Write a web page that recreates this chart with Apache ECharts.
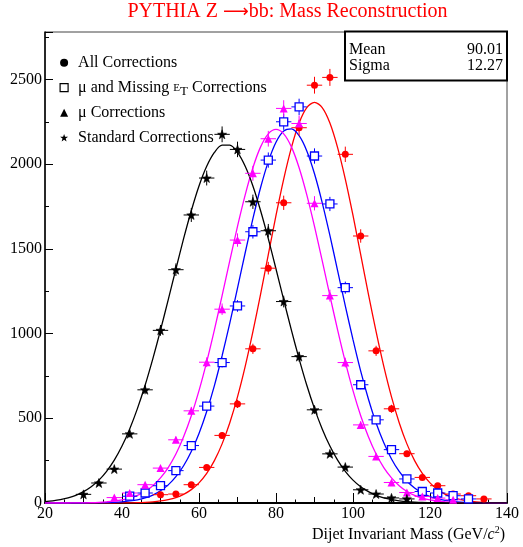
<!DOCTYPE html>
<html><head><meta charset="utf-8">
<script src="https://cdn.jsdelivr.net/npm/echarts@6/dist/echarts.min.js"></script>
<style>html,body{margin:0;padding:0;background:#fff}#c{width:523px;height:547px}</style>
</head><body><div id="c"></div>
<script>
// ---- data ----
const titleParts = ['PYTHIA Z ', '\u27F6', 'bb: Mass Reconstruction'];
const seriesNames = ['All Corrections', '\u03bc and Missing ET Corrections', '\u03bc Corrections', 'Standard Corrections'];
const xTicks = [20, 40, 60, 80, 100, 120, 140];
const yTicks = [0, 500, 1000, 1500, 2000, 2500];
const binHalfWidth = 2;

// All Corrections (red circles)
const allX = [50,54,58,62,66,70,74,78,82,86,90,94,98,102,106,110,114,118,122,126,130,134];
const allY = [49,53,108,210,399,585,910,1386,1772,2215,2466,2512,2058,1576,898,556,291,151,102,53,43,24];
// mu and Missing ET Corrections (blue open squares)
const metX = [42,46,50,54,58,62,66,70,74,78,82,86,90,94,98,102,106,110,114,118,122,126,130];
const metY = [40,59,102,191,339,572,829,1163,1601,2024,2250,2338,2048,1765,1271,698,491,315,142,68,59,43,24];
// mu Corrections (magenta triangles)
const muX = [38,42,46,50,54,58,62,66,70,74,78,82,86,90,94,98,102,106,110,114,118,122,126];
const muY = [32,59,108,206,373,544,831,1144,1552,1946,2150,2329,2240,1769,1224,829,461,275,121,62,39,29,19];
// Standard Corrections (black stars)
const stdX = [30,34,38,42,46,50,54,58,62,66,70,74,78,82,86,90,94,98,102,106,110,114];
const stdY = [51,118,200,408,668,1019,1377,1700,1918,2176,2087,1778,1607,1189,864,550,290,212,78,53,30,24];

// fitted curves, read at every 2 GeV from 20 to 140
const curveX = [20,22,24,26,28,30,32,34,36,38,40,42,44,46,48,50,52,54,56,58,60,62,64,66,68,70,72,74,76,78,80,82,84,86,88,90,92,94,96,98,100,102,104,106,108,110,112,114,116,118,120,122,124,126,128,130,132,134,136,138,140];
const allFit = [0,0,0,0,0,0,0,0,0,0,1,1,2,4,7,12,20,32,51,79,119,175,250,349,474,626,806,1011,1233,1466,1697,1912,2098,2243,2334,2365,2334,2243,2098,1912,1697,1466,1233,1011,806,626,474,349,250,175,119,79,51,32,20,12,7,4,2,1,1];
const metFit = [0,0,0,0,0,0,1,1,2,4,7,12,19,30,47,72,107,156,220,304,410,540,693,869,1062,1268,1477,1678,1862,2015,2129,2195,2208,2168,2078,1943,1773,1579,1372,1164,964,778,614,472,355,260,186,130,88,59,38,24,15,9,5,3,2,1,0,0,0];
const muFit = [0,0,0,0,1,1,2,4,7,11,18,29,45,68,102,148,209,289,391,515,663,833,1022,1224,1430,1633,1819,1979,2102,2179,2205,2179,2102,1979,1819,1633,1430,1224,1022,833,663,515,391,289,209,148,102,68,45,29,18,11,7,4,2,1,1,0,0,0,0];
const stdFit = [8,13,20,30,45,67,96,135,187,253,336,437,557,695,851,1020,1199,1381,1560,1725,1871,1987,2069,2112,2112,2069,1987,1871,1725,1560,1381,1199,1020,851,695,557,437,336,253,187,135,96,67,45,30,20,13,8,5,3,2,1,1,0,0,0,0,0,0,0,0];

const statsLabels = ['Mean', 'Sigma'];
const statsValues = ['90.01', '12.27'];

// ---- styling ----
const FONT = '"Liberation Serif", "DejaVu Serif", serif';
const RED = '#ff0000', BLUE = '#0000ff', MAG = '#ff00ff', BLK = '#000000';
const STAR = 'path://M0,-10L2.35,-3.24L9.51,-3.09L3.8,1.24L5.88,8.09L0,4L-5.88,8.09L-3.8,1.24L-9.51,-3.09L-2.35,-3.24Z';

function pairs(xs, ys) { return xs.map((x, i) => [x, ys[i]]); }

function errBars(color) {
  return function (params, api) {
    const x = api.value(0), y = api.value(1);
    const e = Math.sqrt(Math.max(y, 0));
    const l = api.coord([x - binHalfWidth, y]);
    const r = api.coord([x + binHalfWidth, y]);
    const b = api.coord([x, Math.max(0, y - e)]);
    const t = api.coord([x, y + e]);
    return {
      type: 'group',
      children: [
        { type: 'line', shape: { x1: l[0], y1: l[1], x2: r[0], y2: r[1] }, style: { stroke: color, lineWidth: 1 } },
        { type: 'line', shape: { x1: b[0], y1: b[1], x2: t[0], y2: t[1] }, style: { stroke: color, lineWidth: 1 } }
      ]
    };
  };
}

const sets = [
  { name: seriesNames[0], xs: allX, ys: allY, fit: allFit, color: RED, symbol: 'circle', size: 7, fill: RED, bw: 0 },
  { name: seriesNames[1], xs: metX, ys: metY, fit: metFit, color: BLUE, symbol: 'rect', size: 8, fill: '#ffffff', bw: 1.3 },
  { name: seriesNames[2], xs: muX, ys: muY, fit: muFit, color: MAG, symbol: 'triangle', size: 8, fill: MAG, bw: 0 },
  { name: seriesNames[3], xs: stdX, ys: stdY, fit: stdFit, color: BLK, symbol: STAR, size: 9, fill: BLK, bw: 0.6 }
];

const series = [];
sets.forEach((s) => {
  series.push({
    name: s.name + ' fit', type: 'line', xAxisIndex: 0, yAxisIndex: 0,
    data: pairs(curveX, s.fit), smooth: 0.3, showSymbol: false, symbol: 'none',
    lineStyle: { color: s.color, width: 1.3 }, z: 2, silent: true, clip: true
  });
});
sets.forEach((s) => {
  series.push({
    name: s.name + ' err', type: 'custom', xAxisIndex: 0, yAxisIndex: 0,
    data: pairs(s.xs, s.ys), renderItem: errBars(s.color), z: 3, silent: true,
    encode: { x: 0, y: 1 }
  });
});
sets.forEach((s) => {
  series.push({
    name: s.name, type: 'scatter', xAxisIndex: 0, yAxisIndex: 0,
    data: pairs(s.xs, s.ys), symbol: s.symbol, symbolSize: s.size,
    itemStyle: { color: s.fill, borderColor: s.color, borderWidth: s.bw, opacity: 1 },
    z: 4, silent: true
  });
});

const legendIcons = [
  { name: seriesNames[0], icon: 'circle', itemStyle: { color: BLK, borderWidth: 0 } },
  { name: seriesNames[1], icon: 'rect', itemStyle: { color: '#ffffff', borderColor: BLK, borderWidth: 1.2 } },
  { name: seriesNames[2], icon: 'triangle', itemStyle: { color: BLK, borderWidth: 0 } },
  { name: seriesNames[3], icon: STAR, itemStyle: { color: BLK, borderWidth: 0 } }
];

const option = {
  animation: false,
  backgroundColor: '#ffffff',
  grid: { left: 45, right: 16, top: 32, bottom: 44, show: true, borderColor: '#444', borderWidth: 1, backgroundColor: 'transparent' },
  xAxis: [{
    type: 'value', min: xTicks[0], max: xTicks[xTicks.length - 1], interval: xTicks[1] - xTicks[0],
    position: 'bottom',
    axisLine: { show: true, onZero: false, lineStyle: { color: '#000', width: 2 } },
    axisTick: { show: true, inside: true, length: 10, lineStyle: { color: '#000', width: 1 } },
    minorTick: { show: true, splitNumber: 4, length: 3.5, lineStyle: { color: '#000', width: 1 } },
    splitLine: { show: false },
    axisLabel: { fontFamily: FONT, fontSize: 16, color: '#000', margin: 3, formatter: v => String(v) }
  }, {
    type: 'value', min: xTicks[0], max: xTicks[xTicks.length - 1], interval: (xTicks[1] - xTicks[0]) / 2,
    position: 'bottom', offset: 0,
    axisLine: { show: false, onZero: false },
    axisTick: { show: true, inside: true, length: 6, lineStyle: { color: '#000', width: 1 } },
    splitLine: { show: false }, axisLabel: { show: false }
  }],
  yAxis: {
    type: 'value', min: 0, max: 2780, interval: yTicks[1] - yTicks[0],
    axisLine: { show: true, onZero: false, lineStyle: { color: '#000', width: 1.5 } },
    axisTick: { show: true, inside: true, length: 8, lineStyle: { color: '#000', width: 1 } },
    minorTick: { show: true, splitNumber: 2, length: 4, lineStyle: { color: '#000', width: 1 } },
    splitLine: { show: false },
    axisLabel: { fontFamily: FONT, fontSize: 16, color: '#000', margin: 3, showMaxLabel: false,
      formatter: v => (yTicks.indexOf(v) >= 0 ? String(v) : '') }
  },
  legend: {
    orient: 'vertical', left: 59.5, top: 52.7, padding: 0, itemGap: 5,
    itemWidth: 8, itemHeight: 8, selectedMode: false,
    data: legendIcons,
    formatter: function (name) {
      if (name === seriesNames[1]) return '{a|\u03bc and Missing }{e|E}{t|T}{a| Corrections}';
      return '{a|' + name + '}';
    },
    textStyle: {
      fontFamily: FONT, fontSize: 16, color: '#000', lineHeight: 20, padding: [0, 0, 0, 5],
      rich: {
        a: { fontFamily: FONT, fontSize: 16, color: '#000', lineHeight: 20 },
        e: { fontFamily: FONT, fontSize: 11, color: '#000', lineHeight: 12 },
        t: { fontFamily: FONT, fontSize: 13, color: '#000', lineHeight: 13, padding: [7, 0, 0, 0] }
      }
    }
  },
  graphic: [
    { type: 'text', x: 287.5, y: 12, z: 10,
      style: {
        text: '{a|' + titleParts[0] + '}{r|' + titleParts[1] + '}{a|' + titleParts[2] + '}',
        fill: RED, font: '20px ' + FONT, textAlign: 'center', textVerticalAlign: 'middle',
        rich: {
          a: { fontFamily: FONT, fontSize: 20, fill: RED, lineHeight: 24 },
          r: { fontFamily: '"DejaVu Sans", sans-serif', fontSize: 18, fill: RED, lineHeight: 24 }
        }
      } },
    { type: 'rect', x: 345, y: 31.5, z: 10,
      shape: { x: 0, y: 0, width: 162, height: 49 },
      style: { fill: '#ffffff', stroke: '#000', lineWidth: 2 } },
    { type: 'text', x: 349, y: 50, z: 11, style: { text: statsLabels[0], fill: '#000', font: '16px ' + FONT, textAlign: 'left', textVerticalAlign: 'middle' } },
    { type: 'text', x: 503, y: 50, z: 11, style: { text: statsValues[0], fill: '#000', font: '16px ' + FONT, textAlign: 'right', textVerticalAlign: 'middle' } },
    { type: 'text', x: 349, y: 66, z: 11, style: { text: statsLabels[1], fill: '#000', font: '16px ' + FONT, textAlign: 'left', textVerticalAlign: 'middle' } },
    { type: 'text', x: 503, y: 66, z: 11, style: { text: statsValues[1], fill: '#000', font: '16px ' + FONT, textAlign: 'right', textVerticalAlign: 'middle' } },
    { type: 'text', x: 505, y: 535, z: 10,
      style: {
        text: '{a|Dijet Invariant Mass (GeV/}{c|c}{s|2}{a|)}',
        textAlign: 'right', textVerticalAlign: 'middle', fill: '#000', font: '16px ' + FONT,
        rich: {
          a: { fontFamily: FONT, fontSize: 16, fill: '#000', lineHeight: 20 },
          c: { fontFamily: FONT, fontSize: 16, fontStyle: 'italic', fill: '#000', lineHeight: 20 },
          s: { fontFamily: FONT, fontSize: 10, fill: '#000', lineHeight: 12, verticalAlign: 'top' }
        }
      } }
  ],
  series: series
};

const chart = echarts.init(document.getElementById('c'), null, { renderer: 'canvas' });
chart.setOption(option);
</script>
</body></html>
